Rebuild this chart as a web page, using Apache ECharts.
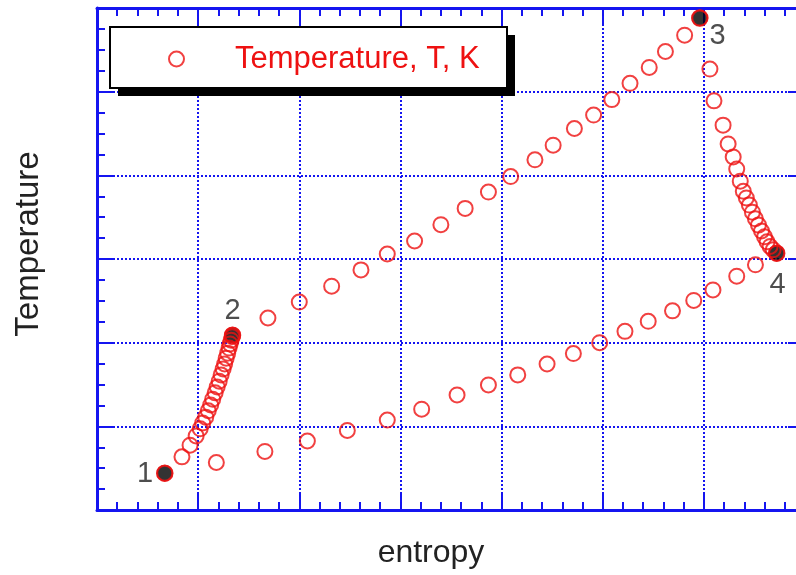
<!DOCTYPE html>
<html>
<head>
<meta charset="utf-8">
<title>T-s cycle</title>
<script src="https://cdn.jsdelivr.net/npm/echarts@6/dist/echarts.min.js"></script>
<style>
  html, body { margin: 0; padding: 0; background: #ffffff; }
  #chart { width: 796px; height: 575px; }
</style>
</head>
<body>
<div id="chart"></div>
<script>
// Entropy (J/kg·K) and temperature (K) of the computed states, one array per process
const compressionS = [67, 84, 92, 98, 102, 104.5, 107.5, 110, 112.4, 114.4, 116.8, 118.8, 120.8, 122.7, 124.7, 126.2, 127.7, 129.2, 130.6, 131.6, 132.6, 133.6, 134];
const compressionT = [288, 327, 355, 377, 394, 408, 422, 437, 451, 465, 480, 494, 508, 523, 537, 549, 563, 575, 587, 597, 606, 614, 618];

const heatingS = [169, 200, 232, 261, 287, 314, 340, 364, 387, 409, 433, 451, 472, 491, 509, 527, 546, 562, 581, 596];
const heatingT = [659, 697, 735, 774, 812, 843, 882, 921, 960, 997, 1037, 1072, 1112, 1144, 1181, 1220, 1258, 1296, 1335, 1376];

const expansionS = [606, 610, 619, 624, 629, 632.5, 636, 639, 642, 645, 648, 651, 654, 657, 660, 662.5, 665.5, 668.5, 672];
const expansionT = [1254, 1178, 1120, 1075, 1044, 1015, 986, 962, 946, 929, 912, 896, 881, 867, 853, 841, 830, 822, 814];

const coolingS = [651, 632.5, 609, 590, 569, 545, 522, 497, 471, 445, 416, 387, 356, 321, 287, 247.5, 208, 166, 118];
const coolingT = [786, 759, 726, 701, 676, 651, 627, 600, 574, 549, 523, 499, 475, 441, 415, 390, 365, 340, 313.5];

// Numbered state points of the cycle
const stateNames = ['1', '2', '3', '4'];
const stateS = [67, 134, 596, 672];
const stateT = [288, 618, 1376, 814];

// Axis ranges
const sMin = 0, sMax = 700, sStep = 100;
const tMin = 200, tMax = 1400, tStep = 200;

const seriesName = 'Temperature, T, K';

const blue = '#1515f0';
const red = '#ee1111';
const textColor = '#222222';
const font = '"Liberation Sans", Arial, sans-serif';

function pairs(xs, ys) {
  return xs.map((x, i) => [x, ys[i]]);
}

const cycleData = []
  .concat(pairs(compressionS, compressionT))
  .concat(pairs(heatingS, heatingT))
  .concat(pairs(expansionS, expansionT))
  .concat(pairs(coolingS, coolingT));

const labelPlacement = [
  { position: 'left', distance: 3, offset: [0, 1] },
  { position: 'top', distance: 1, offset: [0, 0] },
  { position: 'right', distance: 1, offset: [0, 18] },
  { position: 'bottom', distance: 9, offset: [1, 0] }
];

const stateData = stateNames.map((n, i) => ({
  name: n,
  value: [stateS[i], stateT[i]],
  label: labelPlacement[i]
}));

function frameAxis(position, min, max, interval, minorSplit, extra) {
  return Object.assign({
    type: 'value',
    position: position,
    min: min,
    max: max,
    interval: interval,
    axisLine: { show: true, onZero: false, lineStyle: { color: blue, width: 3 } },
    axisTick: { show: true, inside: true, length: 17, lineStyle: { color: blue, width: 2 } },
    minorTick: { show: true, splitNumber: minorSplit, length: 8, lineStyle: { color: blue, width: 2 } },
    axisLabel: { show: false },
    splitLine: { show: false },
    minorSplitLine: { show: false }
  }, extra || {});
}

const dotted = { show: true, lineStyle: { color: blue, width: 2, type: [2, 2] } };

const chart = echarts.init(document.getElementById('chart'), null, { renderer: 'canvas' });

chart.setOption({
  backgroundColor: '#ffffff',
  animation: false,
  // the plot frame runs a little past the right edge of the canvas
  grid: {
    left: 97, width: 708, top: 8, bottom: 65,
    containLabel: false,
    outerBoundsMode: 'none'
  },
  xAxis: [
    frameAxis('bottom', sMin, sMax, sStep, 5, {
      name: 'entropy',
      nameLocation: 'middle',
      nameGap: 27,
      nameTextStyle: { color: textColor, fontSize: 32, fontFamily: font, padding: [0, 40, 0, 0] },
      splitLine: dotted
    }),
    frameAxis('top', sMin, sMax, sStep, 5)
  ],
  yAxis: [
    frameAxis('left', tMin, tMax, tStep, 4, {
      name: 'Temperature',
      nameLocation: 'middle',
      nameGap: 52,
      nameRotate: 90,
      nameTextStyle: { color: textColor, fontSize: 33, fontFamily: font, padding: [0, 0, 0, 30] },
      splitLine: dotted
    }),
    frameAxis('right', tMin, tMax, tStep, 4)
  ],
  legend: {
    show: true,
    selectedMode: false,
    left: 168,
    top: 43,
    padding: 0,
    itemWidth: 31,
    itemHeight: 15,
    z: 100,
    data: [seriesName],
    textStyle: {
      color: red,
      fontSize: 31,
      fontFamily: font,
      lineHeight: 32,
      padding: [0, 0, 0, 38]
    }
  },
  graphic: [
    {
      type: 'rect',
      z: 50,
      shape: { x: 118, y: 35, width: 397, height: 61 },
      style: { fill: '#000000' }
    },
    {
      type: 'rect',
      z: 51,
      shape: { x: 110, y: 27, width: 397, height: 61 },
      style: { fill: '#ffffff', stroke: '#000000', lineWidth: 2 }
    }
  ],
  series: [
    {
      name: 'state points',
      type: 'scatter',
      symbol: 'circle',
      symbolSize: 16,
      z: 2,
      itemStyle: { color: '#000000', borderColor: red, borderWidth: 1.5 },
      label: {
        show: true,
        formatter: '{b}',
        color: textColor,
        fontSize: 29,
        fontFamily: font
      },
      data: stateData
    },
    {
      name: seriesName,
      type: 'scatter',
      symbol: 'circle',
      symbolSize: 15,
      z: 3,
      itemStyle: { color: 'rgba(0,0,0,0)', borderColor: red, borderWidth: 2 },
      data: cycleData
    }
  ]
});
</script>
</body>
</html>
